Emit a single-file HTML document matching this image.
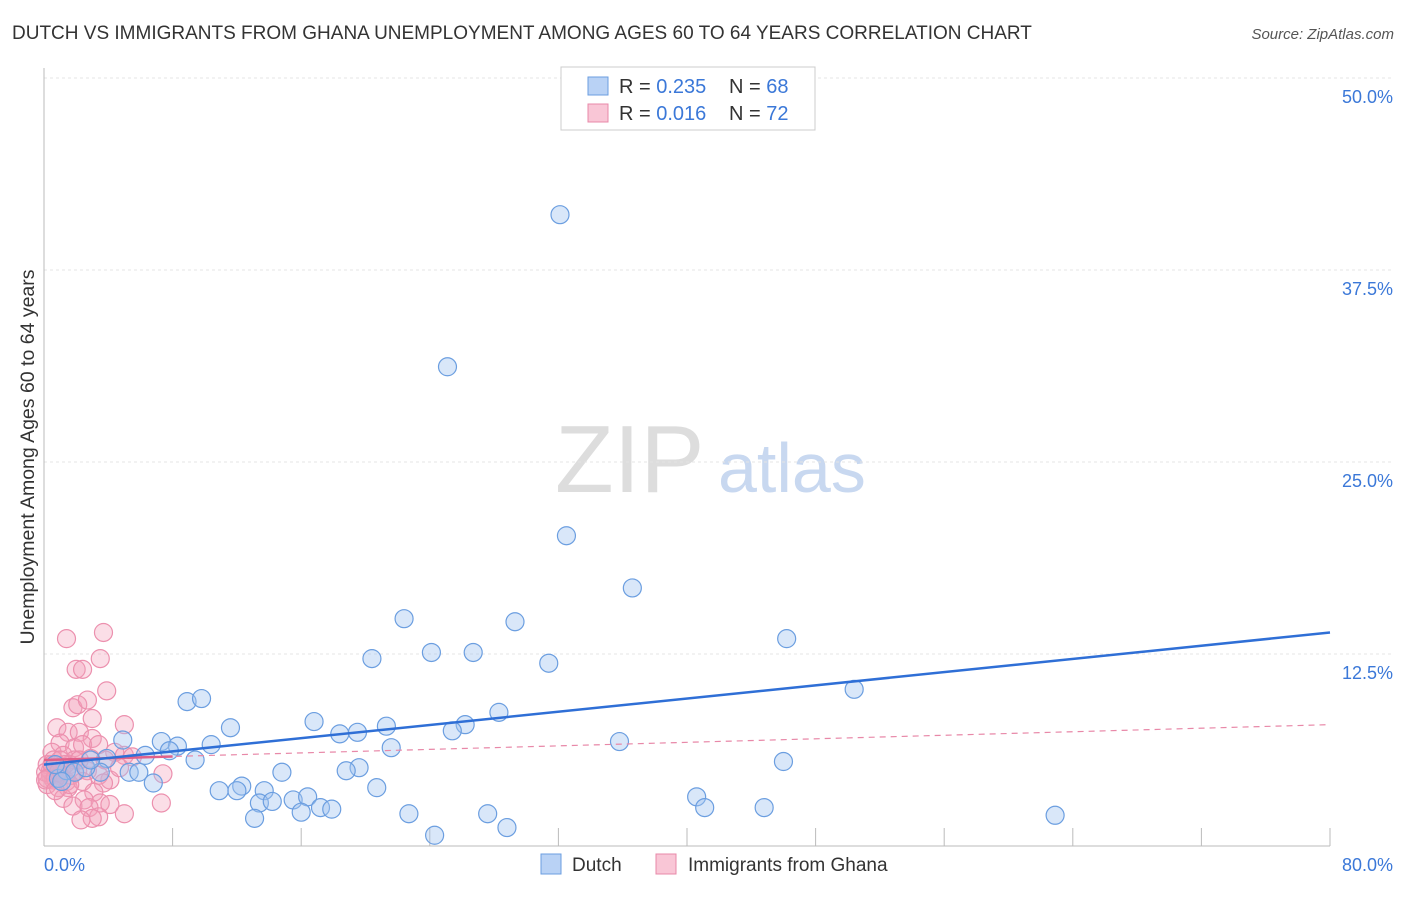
<!DOCTYPE html>
<html><head><meta charset="utf-8"><style>
body{margin:0;background:#fff;font-family:"Liberation Sans",sans-serif;}
svg text{font-family:"Liberation Sans",sans-serif;}
</style></head><body>
<svg id="c" width="1406" height="892">
<text x="12" y="39" font-size="19" fill="#333">DUTCH VS IMMIGRANTS FROM GHANA UNEMPLOYMENT AMONG AGES 60 TO 64 YEARS CORRELATION CHART</text>
<text x="1394" y="39" font-size="15" fill="#555" font-style="italic" text-anchor="end">Source: ZipAtlas.com</text>
<text transform="translate(34,457) rotate(-90)" font-size="19.5" fill="#333" text-anchor="middle">Unemployment Among Ages 60 to 64 years</text>
<text x="555" y="492" font-size="96" fill="#ddd" font-family="Liberation Serif">ZIP</text>
<text x="718" y="492" font-size="70" fill="#c8d8f0">atlas</text>
<g id="grid"></g><g id="pts"></g><g id="lines"></g>
<g>
<rect x="561" y="67" width="254" height="63" fill="#fff" stroke="#ccc"/>
<rect x="588" y="77" width="20" height="18" fill="#b9d2f5" stroke="#6b9ee0"/>
<text x="619" y="93" font-size="20" fill="#333">R = <tspan fill="#3b78d8">0.235</tspan></text>
<text x="729" y="93" font-size="20" fill="#333">N = <tspan fill="#3b78d8">68</tspan></text>
<rect x="588" y="104" width="20" height="18" fill="#f9c6d6" stroke="#e888a8"/>
<text x="619" y="120" font-size="20" fill="#333">R = <tspan fill="#3b78d8">0.016</tspan></text>
<text x="729" y="120" font-size="20" fill="#333">N = <tspan fill="#3b78d8">72</tspan></text>
</g>
<g>
<rect x="541" y="854" width="20" height="20" fill="#b9d2f5" stroke="#6b9ee0"/>
<text x="572" y="871" font-size="19" fill="#333">Dutch</text>
<rect x="656" y="854" width="20" height="20" fill="#f9c6d6" stroke="#e888a8"/>
<text x="688" y="871" font-size="19" fill="#333">Immigrants from Ghana</text>
</g>
</svg>
<script>
const yTicks=[12.5,25,37.5,50];
const yTickLabels=["12.5%","25.0%","37.5%","50.0%"];
const xTicks=[8,16,24,32,40,48,56,64,72,80];
const dutchX=[32.1,25.1,32.5,36.6,22.4,29.3,46.2,24.1,26.7,20.4,31.4,50.4,8.9,9.8,28.3,16.8,11.6,21.3,26.2,18.4,19.5,25.4,4.9,7.3,8.3,10.4,35.8,21.6,7.8,6.3,9.4,3.9,46.0,19.6,18.8,14.8,5.3,5.9,3.5,6.8,12.3,20.7,10.9,12.0,13.7,40.6,13.4,14.2,15.5,16.4,17.2,17.9,16.0,41.1,44.8,13.1,22.7,27.6,62.9,28.8,24.3,0.9,1.4,1.9,2.6,0.7,2.9,1.1];
const dutchY=[41.1,31.2,20.2,16.8,14.8,14.6,13.5,12.6,12.6,12.2,11.9,10.2,9.4,9.6,8.7,8.1,7.7,7.8,7.9,7.3,7.4,7.5,6.9,6.8,6.5,6.6,6.8,6.4,6.2,5.9,5.6,5.7,5.5,5.1,4.9,4.8,4.8,4.8,4.8,4.1,3.9,3.8,3.6,3.6,3.6,3.2,2.8,2.9,3.0,3.2,2.5,2.4,2.2,2.5,2.5,1.8,2.1,2.1,2.0,1.2,0.7,4.4,4.9,4.8,5.1,5.3,5.6,4.2];
const ghanaX=[1.4,3.7,3.5,2.0,2.4,3.9,1.8,2.1,2.7,3.0,5.0,0.8,1.5,2.2,3.0,1.0,1.9,2.4,3.4,4.4,5.0,0.5,1.2,2.9,3.8,0.2,0.7,1.1,1.6,2.1,2.7,0.4,0.6,1.0,1.4,1.7,0.2,0.9,1.5,7.4,4.1,3.4,2.4,3.7,3.1,1.2,2.5,3.5,4.1,7.3,1.8,2.8,5.0,3.4,3.0,2.3,0.6,1.9,1.0,0.4,0.1,0.5,1.3,2.2,1.6,4.7,5.5,0.7,0.2,0.9,0.1,0.7];
const ghanaY=[13.5,13.9,12.2,11.5,11.5,10.1,9.0,9.2,9.5,8.3,7.9,7.7,7.4,7.4,7.0,6.7,6.4,6.6,6.6,6.1,5.9,6.1,5.9,5.7,5.6,5.3,5.1,4.9,5.3,4.9,4.9,4.6,4.3,4.6,4.2,4.6,4.0,3.8,3.8,4.7,4.3,4.6,4.2,4.1,3.5,3.1,3.0,2.8,2.7,2.8,2.6,2.5,2.1,1.9,1.8,1.7,5.6,5.6,5.6,4.9,4.8,5.3,5.3,5.6,4.0,5.1,5.8,4.4,4.4,4.8,4.3,3.6];
const dutchTrend=[5.3,13.9];
const ghanaTrend=[5.6,7.9];
const X=v=>44+v/80*1286, Y=v=>846-v/50*768;
const NS="http://www.w3.org/2000/svg";
function mk(tag,attrs,parent){const e=document.createElementNS(NS,tag);for(const k in attrs)e.setAttribute(k,attrs[k]);document.getElementById(parent).appendChild(e);return e;}
yTicks.forEach((t,i)=>{
 const l=mk('line',{x1:44,x2:1392,y1:Y(t),y2:Y(t),stroke:'#e4e4e4','stroke-dasharray':'3 3'},'grid');
 
 
 const tx=mk('text',{x:1393,y:Y(t)+25,'font-size':18,fill:'#3b78d8','text-anchor':'end'},'grid');
 tx.textContent=yTickLabels[i];
 
 
});
xTicks.forEach(t=>{
 const l=mk('line',{x1:X(t),x2:X(t),y1:828,y2:846,stroke:'#bbb'},'grid');
 
 
});
let a=mk('line',{x1:44,x2:1330,y1:846,y2:846,stroke:'#bbb'},'grid');


a=mk('line',{x1:44,x2:44,y1:68,y2:846,stroke:'#bbb'},'grid');


let t0=mk('text',{x:44,y:871,'font-size':18,fill:'#3b78d8'},'grid');t0.textContent='0.0%';


t0=mk('text',{x:1393,y:871,'font-size':18,fill:'#3b78d8','text-anchor':'end'},'grid');t0.textContent='80.0%';


ghanaX.forEach((x,i)=>{
 const c=mk('circle',{cx:X(x),cy:Y(ghanaY[i]),r:9,fill:'rgba(244,160,185,0.35)',stroke:'#ec90ae','stroke-width':1.2},'pts');
 
 
});
dutchX.forEach((x,i)=>{
 const c=mk('circle',{cx:X(x),cy:Y(dutchY[i]),r:9,fill:'rgba(160,196,240,0.4)',stroke:'#6b9ee0','stroke-width':1.2},'pts');
 
 
});
let tl=mk('line',{x1:X(0),y1:Y(ghanaTrend[0]),x2:X(80),y2:Y(ghanaTrend[1]),stroke:'#e888a8','stroke-width':1.2,'stroke-dasharray':'6 5'},'lines');


tl=mk('line',{x1:X(0),y1:Y(ghanaTrend[0]),x2:X(8),y2:Y(ghanaTrend[0]+(ghanaTrend[1]-ghanaTrend[0])*0.1),stroke:'#e0608a','stroke-width':2.5},'lines');


tl=mk('line',{x1:X(0),y1:Y(dutchTrend[0]),x2:X(80),y2:Y(dutchTrend[1]),stroke:'#2f6fd6','stroke-width':2.5},'lines');


</script>
</body></html>
